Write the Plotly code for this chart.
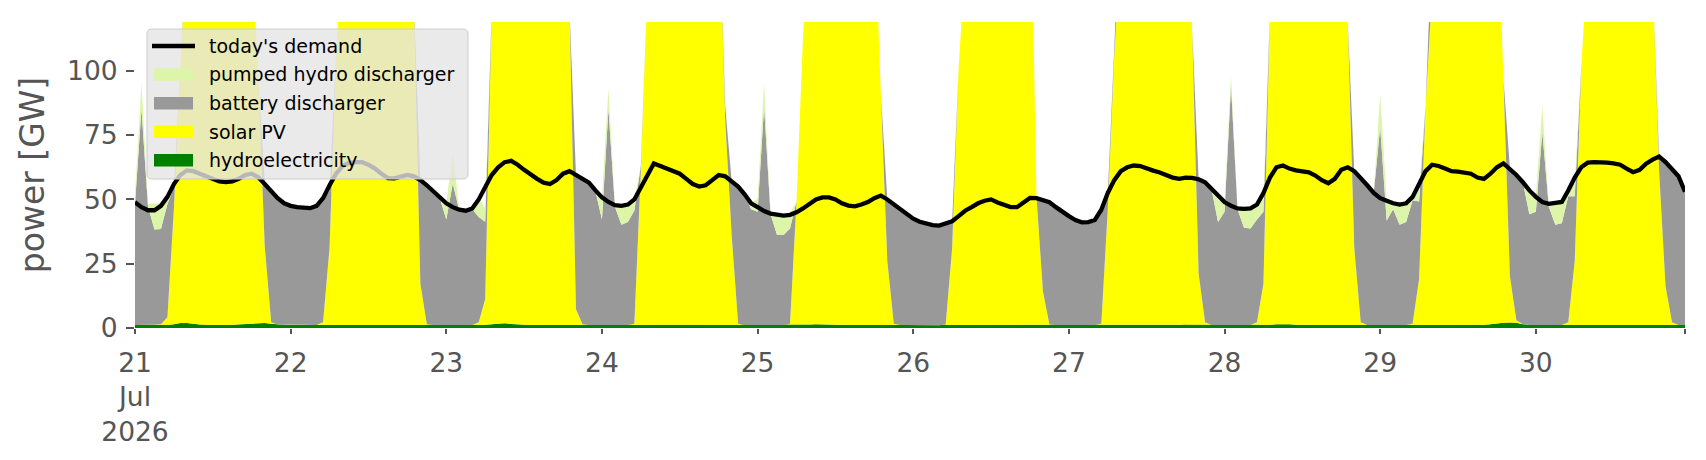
import pandas as pd
import plotly.graph_objects as go

# ---------------- data (hourly, 21 Jul 2026 00:00 .. 30 Jul 2026 23:00) ----------------
start_time = "2026-07-21 00:00"

demand_by_day = [
    [48.9, 47.0, 45.8, 45.8, 47.5, 51.0, 56.0, 59.5, 61.3, 61.0, 60.0, 59.0, 58.0, 57.0, 56.7, 57.0, 58.0, 59.5, 60.0, 58.6, 56.0, 53.0, 50.5, 48.5],
    [47.5, 47.0, 46.6, 46.6, 47.5, 50.5, 55.5, 60.0, 63.0, 64.2, 64.5, 64.5, 63.5, 62.0, 60.0, 58.3, 58.2, 59.0, 59.5, 59.0, 57.5, 55.5, 53.0, 50.5],
    [48.5, 47.0, 46.0, 45.6, 46.5, 50.0, 55.0, 59.5, 62.5, 64.5, 65.0, 63.5, 61.5, 59.5, 58.0, 56.5, 56.0, 57.5, 60.0, 61.0, 59.5, 58.0, 56.5, 53.5],
    [50.8, 49.0, 47.8, 47.5, 48.0, 50.0, 54.5, 59.5, 64.0, 63.0, 62.0, 61.0, 60.0, 58.0, 56.0, 55.0, 55.5, 57.5, 59.5, 59.0, 57.0, 55.0, 52.0, 48.5],
    [47.0, 45.5, 44.5, 44.0, 43.7, 44.0, 45.0, 46.5, 48.5, 50.0, 50.8, 50.8, 50.0, 48.5, 47.6, 47.3, 48.0, 49.0, 50.5, 51.5, 50.0, 48.0, 46.3, 44.0],
    [42.5, 41.3, 40.5, 40.0, 39.8, 40.5, 41.5, 43.5, 45.6, 47.0, 48.5, 49.5, 50.0, 48.8, 48.0, 47.0, 47.0, 49.0, 50.6, 50.5, 49.8, 48.9, 47.0, 45.0],
    [43.5, 42.0, 41.1, 41.2, 42.0, 46.0, 52.5, 57.5, 61.0, 62.5, 63.2, 63.0, 62.0, 61.2, 60.5, 59.5, 58.5, 58.0, 58.5, 58.4, 57.8, 56.7, 54.0, 51.5],
    [49.0, 47.5, 46.5, 46.3, 46.5, 48.0, 52.5, 58.5, 62.5, 63.2, 62.0, 61.3, 61.0, 60.5, 59.3, 57.5, 56.3, 58.0, 61.5, 62.5, 61.0, 58.5, 55.5, 52.5],
    [50.5, 49.5, 48.5, 48.0, 48.5, 51.0, 56.0, 61.0, 63.5, 63.0, 62.0, 61.0, 60.8, 60.5, 60.0, 58.5, 58.0, 60.0, 62.5, 64.0, 62.0, 59.5, 56.7, 53.5],
    [51.0, 49.0, 48.3, 48.5, 49.0, 53.5, 58.5, 62.5, 64.3, 64.5, 64.5, 64.3, 64.0, 63.5, 62.0, 60.6, 61.5, 63.9, 65.5, 66.7, 64.5, 62.0, 59.0, 53.0],
]

hydro_by_day = [
    [1.2, 1.2, 1.3, 1.3, 1.2, 1.2, 1.5, 1.9, 1.9, 1.6, 1.4, 1.3, 1.2, 1.2, 1.2, 1.3, 1.4, 1.5, 1.6, 1.8, 1.9, 1.7, 1.4, 1.3],
    [1.2, 1.3, 1.3, 1.2, 1.2, 1.2, 1.3, 1.4, 1.3, 1.2, 1.2, 1.2, 1.2, 1.2, 1.2, 1.2, 1.2, 1.3, 1.3, 1.3, 1.3, 1.2, 1.2, 1.2],
    [1.2, 1.2, 1.2, 1.2, 1.2, 1.2, 1.3, 1.5, 1.7, 1.8, 1.6, 1.4, 1.3, 1.2, 1.2, 1.2, 1.2, 1.3, 1.3, 1.4, 1.3, 1.2, 1.2, 1.2],
    [1.2, 1.2, 1.2, 1.2, 1.2, 1.2, 1.2, 1.3, 1.4, 1.4, 1.3, 1.2, 1.2, 1.2, 1.2, 1.2, 1.2, 1.2, 1.3, 1.3, 1.2, 1.2, 1.2, 1.2],
    [1.2, 1.2, 1.2, 1.2, 1.2, 1.2, 1.2, 1.3, 1.4, 1.5, 1.4, 1.3, 1.2, 1.2, 1.2, 1.2, 1.2, 1.2, 1.2, 1.2, 1.2, 1.2, 1.2, 1.2],
    [1.2, 1.2, 1.1, 1.1, 1.1, 1.1, 1.1, 1.2, 1.3, 1.3, 1.2, 1.2, 1.2, 1.2, 1.2, 1.2, 1.2, 1.2, 1.2, 1.2, 1.2, 1.2, 1.2, 1.2],
    [1.2, 1.2, 1.2, 1.2, 1.2, 1.2, 1.2, 1.3, 1.3, 1.3, 1.2, 1.2, 1.2, 1.2, 1.2, 1.2, 1.2, 1.3, 1.4, 1.4, 1.3, 1.2, 1.2, 1.2],
    [1.2, 1.2, 1.2, 1.2, 1.2, 1.2, 1.2, 1.3, 1.5, 1.6, 1.5, 1.3, 1.2, 1.2, 1.2, 1.2, 1.2, 1.2, 1.3, 1.3, 1.2, 1.2, 1.2, 1.2],
    [1.2, 1.2, 1.2, 1.2, 1.2, 1.2, 1.2, 1.3, 1.3, 1.3, 1.2, 1.2, 1.2, 1.2, 1.2, 1.2, 1.3, 1.5, 1.8, 2.0, 2.1, 2.0, 1.5, 1.2],
    [1.2, 1.2, 1.2, 1.2, 1.2, 1.2, 1.2, 1.3, 1.3, 1.3, 1.2, 1.2, 1.2, 1.2, 1.2, 1.2, 1.2, 1.3, 1.4, 1.3, 1.2, 1.2, 1.2, 1.2],
]

solar_by_day = [
    [0, 0, 0, 0, 0.3, 3, 45, 100, 165, 200, 225, 240, 245, 240, 228, 212, 192, 172, 150, 95, 30, 0.5, 0, 0],
    [0, 0, 0, 0, 0, 1, 30, 105, 165, 205, 230, 245, 250, 246, 235, 218, 198, 178, 160, 125, 16, 0.3, 0, 0],
    [0, 0, 0, 0, 0, 1, 10, 122, 170, 205, 230, 242, 248, 244, 232, 216, 196, 178, 160, 122, 6, 0.3, 0, 0],
    [0, 0, 0, 0, 0, 0.5, 60, 130, 175, 208, 232, 245, 250, 245, 233, 217, 197, 180, 168, 80, 35, 0.5, 0, 0],
    [0, 0, 0, 0, 0, 0.5, 48, 112, 160, 195, 220, 235, 240, 236, 225, 208, 190, 172, 160, 90, 25, 0.5, 0, 0],
    [0, 0, 0, 0, 0, 0.3, 30, 100, 165, 200, 222, 236, 240, 236, 225, 215, 205, 198, 190, 50, 13, 0.2, 0, 0],
    [0, 0, 0, 0, 0, 0.5, 45, 105, 165, 200, 225, 238, 243, 238, 228, 212, 195, 180, 170, 115, 20, 1, 0, 0],
    [0, 0, 0, 0, 0, 1, 16, 122, 170, 205, 228, 240, 246, 241, 230, 214, 196, 182, 168, 118, 30, 1, 0, 0],
    [0, 0, 0, 0, 0, 0.5, 18, 85, 150, 190, 218, 232, 238, 234, 224, 208, 192, 180, 170, 95, 18, 1, 0, 0],
    [0, 0, 0, 0, 0, 1, 25, 100, 165, 200, 225, 238, 242, 238, 226, 210, 190, 168, 135, 60, 15, 1, 0, 0],
]

battery_by_day = [
    [47.0, 84.0, 46.0, 37.0, 37.0, 44.0, 8.0, 0, 0, 0, 0, 0, 0, 0, 0, 0, 0, 0, 0, 0, 25.0, 51.3, 49.3, 47.3],
    [46.2, 45.5, 45.1, 45.2, 46.1, 48.0, 22.0, 0, 0, 0, 0, 0, 0, 0, 0, 0, 0, 0, 0, 0, 40.0, 54.0, 51.8, 49.3],
    [41.0, 55.0, 44.5, 44.2, 45.0, 41.0, 30.0, 0, 0, 0, 0, 0, 0, 0, 0, 0, 0, 0, 0, 0, 52.0, 56.5, 55.0, 52.0],
    [41.0, 84.0, 46.0, 39.0, 40.0, 44.0, 2.0, 0, 0, 0, 0, 0, 0, 0, 0, 0, 0, 0, 0, 5.0, 21.0, 53.3, 50.8, 45.0],
    [44.0, 85.0, 43.0, 35.0, 35.0, 37.0, 0, 0, 0, 0, 0, 0, 0, 0, 0, 0, 0, 0, 0, 0, 24.0, 46.3, 45.1, 42.8],
    [41.3, 40.1, 39.3, 38.8, 38.6, 39.0, 10.0, 0, 0, 0, 0, 0, 0, 0, 0, 0, 0, 0, 0, 0, 35.6, 47.5, 45.8, 43.8],
    [42.3, 40.8, 39.9, 40.0, 40.8, 44.3, 6.0, 0, 0, 0, 0, 0, 0, 0, 0, 0, 0, 0, 0, 0, 36.6, 54.5, 52.8, 40.0],
    [44.0, 93.0, 45.0, 37.8, 37.5, 40.0, 28.0, 0, 0, 0, 0, 0, 0, 0, 0, 0, 0, 0, 0, 0, 29.8, 56.3, 54.3, 51.3],
    [77.0, 40.6, 45.0, 39.0, 40.0, 48.0, 30.0, 0, 0, 0, 0, 0, 0, 0, 0, 0, 0, 0, 0, 0, 42.0, 56.5, 55.2, 43.0],
    [44.0, 75.0, 46.0, 39.0, 39.5, 49.0, 25.0, 0, 0, 0, 0, 0, 0, 0, 0, 0, 0, 0, 0, 5.0, 48.0, 59.8, 57.8, 51.8],
]

pumped_by_day = [
    [4.0, 10.0, 1.0, 10.0, 10.0, 2.0, 0, 0, 0, 0, 0, 0, 0, 0, 0, 0, 0, 0, 0, 0, 0, 0, 0, 0],
    [0, 0, 0, 0, 0, 0, 0, 0, 0, 0, 0, 0, 0, 0, 0, 0, 0, 0, 0, 0, 0, 0, 0, 0],
    [6.5, 12.0, 0.3, 0.3, 0.3, 7.5, 5.0, 0, 0, 0, 0, 0, 0, 0, 0, 0, 0, 0, 0, 0, 0, 0, 0, 0],
    [8.0, 8.0, 0.5, 7.5, 7.0, 4.5, 0, 0, 0, 0, 0, 0, 0, 0, 0, 0, 0, 0, 0, 0, 0, 0, 0, 2.5],
    [5.0, 9.0, 0.5, 8.0, 8.0, 6.0, 0, 0, 0, 0, 0, 0, 0, 0, 0, 0, 0, 0, 0, 0, 0, 0, 0, 0],
    [0, 0, 0, 0, 0, 0, 0, 0, 0, 0, 0, 0, 0, 0, 0, 0, 0, 0, 0, 0, 0, 0, 0, 0],
    [0, 0, 0, 0, 0, 0, 0, 0, 0, 0, 0, 0, 0, 0, 0, 0, 0, 0, 0, 0, 0, 0, 0, 8.5],
    [4.0, 4.0, 0.3, 7.5, 8.0, 7.0, 5.0, 0, 0, 0, 0, 0, 0, 0, 0, 0, 0, 0, 0, 0, 0, 0, 0, 0],
    [12.5, 8.0, 2.0, 8.5, 7.0, 3.0, 5.0, 0, 0, 0, 0, 0, 0, 0, 0, 0, 0, 0, 0, 0, 0, 0, 0, 8.0],
    [6.0, 10.0, 0.3, 8.5, 8.5, 4.0, 5.0, 0, 0, 0, 0, 0, 0, 0, 0, 0, 0, 0, 0, 0, 0, 0, 0, 0],
]

tick_days = ["2026-07-21", "2026-07-22", "2026-07-23", "2026-07-24", "2026-07-25",
             "2026-07-26", "2026-07-27", "2026-07-28", "2026-07-29", "2026-07-30"]
tick_labels = ["21<br>Jul<br>2026", "22", "23", "24", "25", "26", "27", "28", "29", "30"]
y_ticks = [0, 25, 50, 75, 100]

series_names = ["hydroelectricity", "solar PV", "battery discharger", "pumped hydro discharger"]
series_colors = ["#008000", "#ffff00", "#999999", "#dcf5a9"]
legend_names = ["today's demand", "pumped hydro discharger", "battery discharger", "solar PV", "hydroelectricity"]
legend_colors = ["#000000", "#dcf5a9", "#999999", "#ffff00", "#008000"]


def flat(rows):
    return [v for row in rows for v in row]


demand = flat(demand_by_day)
hydro = flat(hydro_by_day)
solar = flat(solar_by_day)
battery = flat(battery_by_day)
pumped = flat(pumped_by_day)
times = pd.date_range(start_time, periods=len(demand), freq="h")

# ---------------- figure ----------------
fig = go.Figure()
for name, vals, col in zip(series_names, [hydro, solar, battery, pumped], series_colors):
    fig.add_trace(go.Scatter(
        x=times, y=vals, name=name, mode="lines", stackgroup="supply",
        line=dict(width=0, color=col), fillcolor=col, showlegend=False,
    ))
fig.add_trace(go.Scatter(
    x=times, y=demand, name="today's demand", mode="lines",
    line=dict(color="black", width=4.3), showlegend=False,
))

# plot-area geometry in pixels (for the hand-made legend)
L, R, T, B = 135, 21, 22, 132
W, H = 1706, 460
PW, PH = W - L - R, H - T - B


def px(x):
    return (x - L) / PW


def py(y):
    return (H - B - y) / PH


# legend box (rounded, translucent like matplotlib's)
bx0, bx1, by0, by1, rr = 147, 468, 29, 179, 5
path = (f"M {px(bx0+rr)},{py(by0)} L {px(bx1-rr)},{py(by0)} Q {px(bx1)},{py(by0)} {px(bx1)},{py(by0+rr)} "
        f"L {px(bx1)},{py(by1-rr)} Q {px(bx1)},{py(by1)} {px(bx1-rr)},{py(by1)} "
        f"L {px(bx0+rr)},{py(by1)} Q {px(bx0)},{py(by1)} {px(bx0)},{py(by1-rr)} "
        f"L {px(bx0)},{py(by0+rr)} Q {px(bx0)},{py(by0)} {px(bx0+rr)},{py(by0)} Z")
shapes = [dict(type="path", path=path, xref="paper", yref="paper", layer="above",
               fillcolor="rgba(229,229,229,0.8)", line=dict(color="#cccccc", width=1))]
annotations = []
row_y = [46, 74.5, 103.3, 131.8, 160.3]
for i, (nm, col) in enumerate(zip(legend_names, legend_colors)):
    yc = row_y[i]
    if i == 0:
        shapes.append(dict(type="line", xref="paper", yref="paper", layer="above",
                           x0=px(152), x1=px(195), y0=py(yc), y1=py(yc),
                           line=dict(color=col, width=4.3)))
    else:
        shapes.append(dict(type="rect", xref="paper", yref="paper", layer="above",
                           x0=px(154), x1=px(193), y0=py(yc - 6.3), y1=py(yc + 6.3),
                           fillcolor=col, line=dict(width=0)))
    annotations.append(dict(text=nm, x=px(207), y=py(yc), xref="paper", yref="paper",
                            xanchor="left", yanchor="middle", showarrow=False,
                            font=dict(size=19, color="black", family="DejaVu Sans")))

fig.update_layout(
    width=W, height=H,
    margin=dict(l=L, r=R, t=T, b=B, pad=0, autoexpand=False),
    paper_bgcolor="white", plot_bgcolor="white",
    font=dict(family="DejaVu Sans", color="#555555"),
    showlegend=False,
    shapes=shapes, annotations=annotations,
    xaxis=dict(
        type="date", range=[times[0], times[-1]],
        tickmode="array", tickvals=list(pd.to_datetime(tick_days)) + [times[-1]],
        ticktext=tick_labels + [""],
        ticks="outside", ticklen=5, tickwidth=1.5, tickcolor="#555555",
        tickfont=dict(size=26.5, color="#555555"), ticklabelstandoff=6,
        showgrid=False, zeroline=False, showline=False, automargin=False,
    ),
    yaxis=dict(
        range=[0, 119], tickmode="array", tickvals=y_ticks,
        ticks="outside", ticklen=8, tickwidth=1.5, tickcolor="#555555",
        tickfont=dict(size=26.5, color="#555555"), ticklabelstandoff=3,
        title=dict(text="power [GW]", font=dict(size=33, color="#555555"), standoff=12),
        showgrid=False, zeroline=False, showline=False, automargin=False,
    ),
)

fig.write_html(
    "out.html",
    config={"displayModeBar": False},
    post_script="document.body.style.margin='0px';document.body.style.overflow='hidden';",
)
